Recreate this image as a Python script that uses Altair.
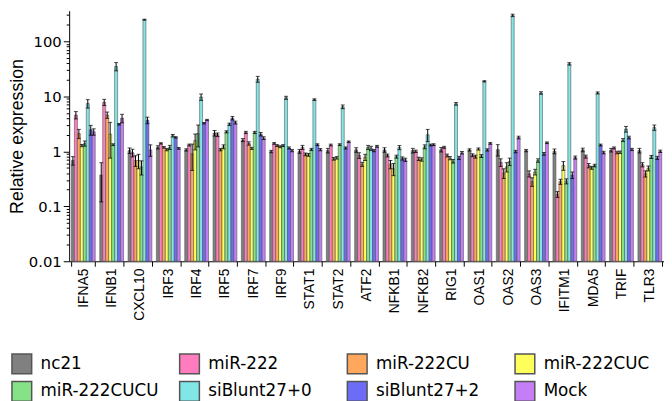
import altair as alt
import pandas as pd

genes = ["IFNA5", "IFNB1", "CXCL10", "IRF3", "IRF4", "IRF5", "IRF7", "IRF9", "STAT1",
         "STAT2", "ATF2", "NFKB1", "NFKB2", "RIG1", "OAS1", "OAS2", "OAS3", "IFITM1",
         "MDA5", "TRIF", "TLR3"]
series = ["nc21", "miR-222", "miR-222CU", "miR-222CUC", "miR-222CUCU",
          "siBlunt27+0", "siBlunt27+2", "Mock"]
colors = ["#808080", "#ff7cbf", "#ffa75c", "#ffff5c", "#86e286",
          "#80e6e6", "#6c6cf6", "#c47ff6"]

nc21 = [0.68, 0.37, 1.03, 1.18, 1.06, 2.14, 1.6, 0.99, 1.0, 1.03, 1.06, 1.06, 1.03, 1.07,
        1.06, 1.07, 1.03, 1.0, 1.06, 1.05, 1.03]
mir222 = [4.57, 7.8, 0.94, 1.39, 1.30, 2.0, 2.2, 1.39, 1.18, 1.3, 0.84, 0.84, 1.0, 1.18,
          0.85, 0.63, 0.39, 0.165, 0.80, 1.15, 0.57]
mir222cu = [2.1, 4.57, 0.68, 1.18, 0.9, 1.07, 1.39, 1.27, 0.88, 0.73, 0.58, 0.58, 0.73, 0.84,
            0.80, 0.40, 0.28, 0.28, 0.55, 0.95, 0.39]
mir222cuc = [1.27, 2.05, 0.68, 1.07, 1.56, 1.21, 1.13, 1.21, 0.86, 0.76, 0.78, 0.48, 0.71,
             0.75, 1.1, 0.52, 0.42, 0.55, 0.50, 0.96, 0.49]
mir222cucu = [1.39, 1.32, 0.52, 1.18, 2.1, 2.26, 2.2, 1.27, 1.08, 1.32, 1.18, 0.80, 1.21,
              0.66, 0.82, 0.65, 0.68, 0.285, 0.55, 1.6, 0.79]
siblunt0 = [7.4, 35, 247, 1.92, 9.7, 3.1, 20.5, 9.4, 8.7, 6.45, 1.13, 1.17, 2.0, 7.3, 18.7,
            296, 11.5, 38.9, 11.5, 2.53, 2.7]
siblunt2 = [2.46, 3.1, 3.67, 1.79, 3.24, 4.0, 2.05, 1.15, 1.32, 1.15, 1.03, 0.74, 1.30, 0.76,
            1.06, 0.99, 0.90, 0.37, 1.30, 1.78, 0.76]
mock = [2.26, 4.0, 1.06, 1.13, 3.7, 3.33, 1.74, 1.03, 1.07, 1.49, 1.23, 0.70, 1.32, 0.94,
        1.39, 1.78, 1.43, 0.77, 0.95, 1.08, 1.0]

err_nc21 = [0.12, 0.25, 0.12, 0.08, 0.05, 0.25, 0.1, 0.05, 0.08, 0.1, 0.1, 0.1, 0.1, 0.1,
            0.05, 0.25, 0.05, 0.1, 0.08, 0.08, 0.1]
err_mir222 = [0.7, 1.0, 0.15, 0.04, 0.05, 0.15, 0.1, 0.05, 0.1, 0.05, 0.1, 0.05, 0.05, 0.05,
              0.05, 0.1, 0.05, 0.02, 0.05, 0.05, 0.05]
err_mir222cu = [0.4, 0.6, 0.15, 0.04, 0.45, 0.05, 0.1, 0.05, 0.05, 0.04, 0.05, 0.1, 0.05,
                0.05, 0.05, 0.08, 0.05, 0.03, 0.05, 0.05, 0.05]
err_mir222cuc = [0.06, 1.3, 0.2, 0.05, 0.5, 0.1, 0.05, 0.05, 0.05, 0.04, 0.1, 0.12, 0.05,
                 0.05, 0.05, 0.1, 0.05, 0.1, 0.03, 0.05, 0.05]
err_mir222cucu = [0.15, 0.05, 0.15, 0.1, 0.9, 0.1, 0.1, 0.05, 0.05, 0.05, 0.1, 0.05, 0.1,
                  0.05, 0.05, 0.1, 0.05, 0.03, 0.03, 0.1, 0.05]
err_siblunt0 = [1.3, 6, 5, 0.1, 1.3, 0.15, 2.5, 0.6, 0.3, 0.5, 0.1, 0.1, 0.5, 0.4, 0.5, 15,
                0.6, 2, 0.5, 0.3, 0.3]
err_siblunt2 = [0.5, 0.1, 0.5, 0.05, 0.1, 0.3, 0.15, 0.05, 0.05, 0.05, 0.05, 0.05, 0.05,
                0.05, 0.05, 0.05, 0.05, 0.05, 0.05, 0.1, 0.05]
err_mock = [0.3, 0.7, 0.25, 0.04, 0.1, 0.2, 0.1, 0.05, 0.05, 0.05, 0.05, 0.05, 0.05, 0.05,
            0.05, 0.1, 0.05, 0.05, 0.05, 0.05, 0.05]

values = [nc21, mir222, mir222cu, mir222cuc, mir222cucu, siblunt0, siblunt2, mock]
errors = [err_nc21, err_mir222, err_mir222cu, err_mir222cuc, err_mir222cucu,
          err_siblunt0, err_siblunt2, err_mock]

rows = []
for s, vals, errs in zip(series, values, errors):
    for g, v, e in zip(genes, vals, errs):
        rows.append({"gene": g, "series": s, "value": v, "lo": v - e, "hi": v + e})
df = pd.DataFrame(rows)

y_ticks = [m * 10 ** e for e in range(-2, 3) for m in range(1, 10) if m * 10 ** e <= 300]
is_major = "abs(log(datum.value)/LN10 - round(log(datum.value)/LN10)) < 0.001"

x_enc = alt.X("gene:N", sort=genes, title=None,
              scale=alt.Scale(paddingInner=0.16, paddingOuter=0.08),
              axis=alt.Axis(labelAngle=-90, labelFont="Liberation Sans", labelFontSize=14,
                            labelColor="black", tickBand="extent", tickSize=5,
                            tickColor="black", domainColor="black", labelPadding=2))
xo_enc = alt.XOffset("series:N", sort=series,
                     scale=alt.Scale(paddingInner=0, paddingOuter=0))
y_scale = alt.Scale(type="log", domain=[0.01, 360], nice=False)

bars = alt.Chart(df).mark_bar(stroke="#555555", strokeWidth=0.6).encode(
    x=x_enc,
    xOffset=xo_enc,
    y=alt.Y("value:Q", scale=y_scale, title="Relative expression",
            axis=alt.Axis(values=y_ticks, format="~g",
                          labelExpr=f"({is_major}) ? datum.label : ''",
                          tickSize={"condition": {"test": is_major, "value": 6}, "value": 3},
                          labelFont="DejaVu Sans", labelFontSize=15, labelColor="black",
                          tickColor="black", domainColor="black", labelPadding=2,
                          titleFont="Liberation Sans", titleFontSize=18,
                          titleFontWeight="normal", titleColor="black", titlePadding=2,
                          grid=False)),
    y2=alt.datum(0.01),
    color=alt.Color("series:N", sort=series,
                    scale=alt.Scale(domain=series, range=colors),
                    legend=alt.Legend(title=None, orient="none", legendX=-59, legendY=347,
                                      direction="horizontal", columns=4, gridAlign="all",
                                      columnPadding=18, rowPadding=2, symbolType="square",
                                      symbolSize=400, symbolStrokeColor="#555555",
                                      symbolStrokeWidth=1.5, symbolOpacity=1,
                                      labelFont="DejaVu Sans", labelFontSize=17,
                                      labelColor="black", labelOffset=8, labelLimit=300)),
)

err_rule = alt.Chart(df).mark_rule(color="black", strokeWidth=1).encode(
    x=alt.X("gene:N", sort=genes), xOffset=xo_enc,
    y=alt.Y("lo:Q", scale=y_scale), y2="hi:Q")
cap_hi = alt.Chart(df).mark_tick(color="black", thickness=1, size=4).encode(
    x=alt.X("gene:N", sort=genes), xOffset=xo_enc, y=alt.Y("hi:Q", scale=y_scale))
cap_lo = alt.Chart(df).mark_tick(color="black", thickness=1, size=4).encode(
    x=alt.X("gene:N", sort=genes), xOffset=xo_enc, y=alt.Y("lo:Q", scale=y_scale))

chart = alt.layer(bars, err_rule, cap_hi, cap_lo).properties(
    width=603, height=254,
    padding={"left": 0, "top": 0, "right": 0, "bottom": 0},
).configure_view(stroke=None).configure_axis(grid=False)

chart.save("out.html", embed_options={"renderer": "svg", "actions": False})
